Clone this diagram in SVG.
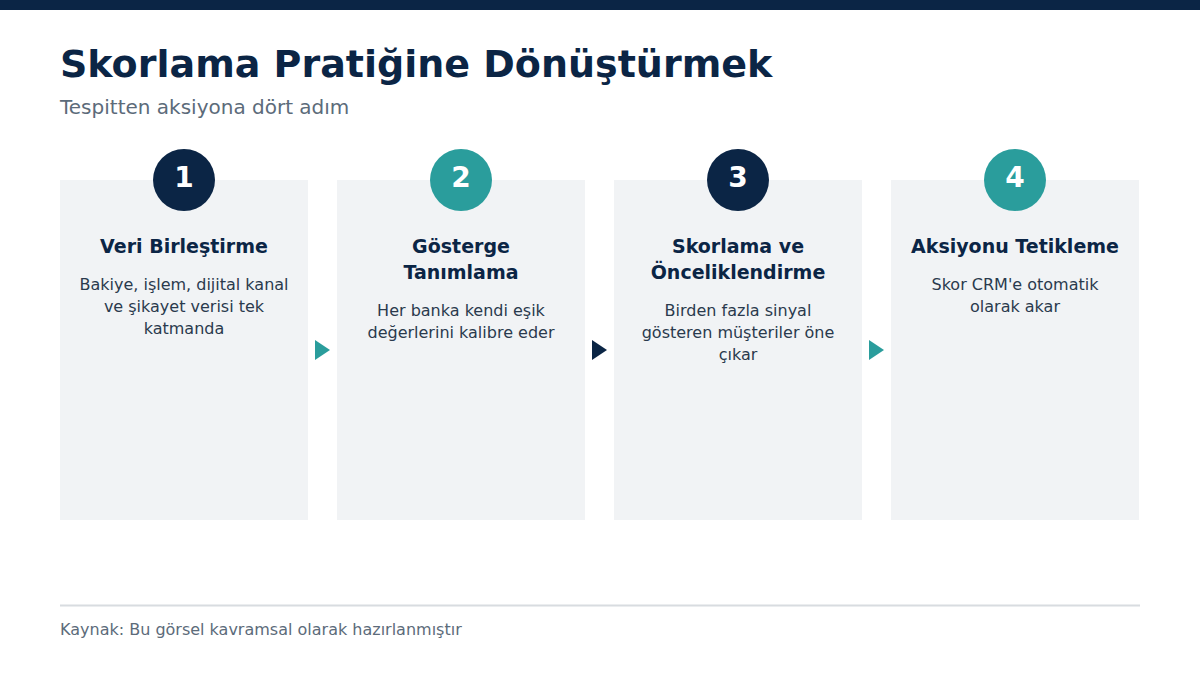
<svg xmlns="http://www.w3.org/2000/svg" width="1200" height="675" viewBox="0 0 1200 675">
<style>
text{font-family:"DejaVu Sans","Liberation Sans",sans-serif}
.card{fill:#f1f3f5}
.title{font-size:38px;font-weight:bold;fill:#0b2545}
.sub{font-size:20px;fill:#5c6b7a}
.num{font-size:28px;font-weight:bold;fill:#fff;text-anchor:middle}
.ct{font-size:19px;font-weight:bold;fill:#0b2545;text-anchor:middle}
.cb{font-size:16px;fill:#2a3a4d;text-anchor:middle}
.foot{font-size:16px;fill:#5c6b7a}
.navy{fill:#0b2545}
.teal{fill:#2a9d9c}
</style>
<rect x="0" y="0" width="1200" height="10" fill="#0b2545"/>
<text class="title" x="60" y="77">Skorlama Pratiğine Dönüştürmek</text>
<text class="sub" x="60" y="114">Tespitten aksiyona dört adım</text>
<g id="step1">
<rect class="card" x="60" y="180" width="248" height="340"/>
<circle class="navy" cx="184" cy="180" r="31"/>
<text class="num" x="184" y="187">1</text>
<text class="ct" x="184" y="253">Veri Birleştirme</text>
<text class="cb" x="184" y="290">Bakiye, işlem, dijital kanal</text>
<text class="cb" x="184" y="312">ve şikayet verisi tek</text>
<text class="cb" x="184" y="334">katmanda</text>
</g>
<g id="step2">
<rect class="card" x="337" y="180" width="248" height="340"/>
<circle class="teal" cx="461" cy="180" r="31"/>
<text class="num" x="461" y="187">2</text>
<text class="ct" x="461" y="253">Gösterge</text>
<text class="ct" x="461" y="279">Tanımlama</text>
<text class="cb" x="461" y="316">Her banka kendi eşik</text>
<text class="cb" x="461" y="338">değerlerini kalibre eder</text>
</g>
<g id="step3">
<rect class="card" x="614" y="180" width="248" height="340"/>
<circle class="navy" cx="738" cy="180" r="31"/>
<text class="num" x="738" y="187">3</text>
<text class="ct" x="738" y="253">Skorlama ve</text>
<text class="ct" x="738" y="279">Önceliklendirme</text>
<text class="cb" x="738" y="316">Birden fazla sinyal</text>
<text class="cb" x="738" y="338">gösteren müşteriler öne</text>
<text class="cb" x="738" y="360">çıkar</text>
</g>
<g id="step4">
<rect class="card" x="891" y="180" width="248" height="340"/>
<circle class="teal" cx="1015" cy="180" r="31"/>
<text class="num" x="1015" y="187">4</text>
<text class="ct" x="1015" y="253">Aksiyonu Tetikleme</text>
<text class="cb" x="1015" y="290">Skor CRM'e otomatik</text>
<text class="cb" x="1015" y="312">olarak akar</text>
</g>
<g id="connectors">
<polygon class="teal" points="315,340 330,350 315,360"/>
<polygon class="navy" points="592,340 607,350 592,360"/>
<polygon class="teal" points="869,340 884,350 869,360"/>
</g>
<line x1="60" y1="605.5" x2="1140" y2="605.5" stroke="#d8dce0" stroke-width="2"/>
<text class="foot" x="60" y="635">Kaynak: Bu görsel kavramsal olarak hazırlanmıştır</text>
</svg>
